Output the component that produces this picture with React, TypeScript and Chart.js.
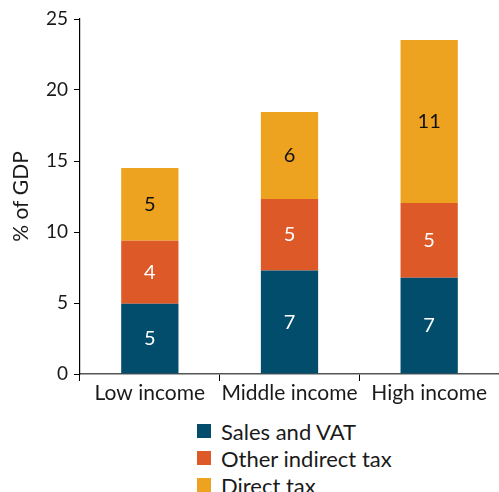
import React, { useEffect, useRef } from "react";
import { Chart, registerables } from "chart.js";

Chart.register(...registerables);

const categories = ["Low income", "Middle income", "High income"];
const salesVat = [4.95, 7.28, 6.78];
const otherIndirect = [4.44, 5.04, 5.26];
const directTax = [5.11, 6.13, 11.48];
const seriesNames = ["Sales and VAT", "Other indirect tax", "Direct tax"];
const seriesColors = ["#024c6c", "#dd5a28", "#eea320"];
const labelColors = ["#ffffff", "#ffffff", "#111111"];
const yMin = 0;
const yMax = 25;
const yStep = 5;

const FONT = "Lato, 'Noto Sans', sans-serif";
const CANVAS_W = 499;
const CANVAS_H = 410;

const valueLabels = {
  id: "valueLabels",
  afterDatasetsDraw(chart: any) {
    const ctx = chart.ctx;
    ctx.save();
    ctx.font = `20px ${FONT}`;
    ctx.textAlign = "center";
    ctx.textBaseline = "middle";
    chart.data.datasets.forEach((ds: any, i: number) => {
      const meta = chart.getDatasetMeta(i);
      meta.data.forEach((el: any, j: number) => {
        const v = ds.data[j];
        ctx.fillStyle = labelColors[i];
        ctx.fillText(String(Math.round(v)), el.x, (el.y + el.base) / 2);
      });
    });
    ctx.restore();
  },
};

export default function App() {
  const ref = useRef<HTMLCanvasElement | null>(null);

  useEffect(() => {
    document.body.style.margin = "0";
    if (!ref.current) return;
    const series = [salesVat, otherIndirect, directTax];
    const chart = new Chart(ref.current, {
      type: "bar",
      data: {
        labels: categories,
        datasets: series.map((d, i) => ({
          label: seriesNames[i],
          data: d,
          backgroundColor: seriesColors[i],
          borderWidth: 0,
          barPercentage: 0.41,
          categoryPercentage: 1,
        })),
      },
      options: {
        responsive: false,
        animation: false,
        layout: { padding: { top: 19, right: 0, left: 0, bottom: 0 } },
        plugins: {
          legend: { display: false },
          tooltip: { enabled: false },
        },
        scales: {
          x: {
            stacked: true,
            grid: {
              offset: true,
              drawOnChartArea: false,
              drawTicks: true,
              tickLength: 7,
              color: "#000",
            },
            border: { color: "#555", width: 1.5 },
            ticks: {
              font: { family: FONT, size: 21 },
              color: "#1a1a1a",
              padding: 0,
              maxRotation: 0,
              minRotation: 0,
              autoSkip: false,
            },
            afterFit: (s: any) => {
              s.height = CANVAS_H - 374;
            },
          },
          y: {
            stacked: true,
            min: yMin,
            max: yMax,
            ticks: {
              stepSize: yStep,
              font: { family: FONT, size: 19 },
              color: "#1a1a1a",
              padding: 6,
            },
            grid: {
              drawOnChartArea: false,
              drawTicks: true,
              tickLength: 6,
              color: "#000",
            },
            border: { color: "#000", width: 1.2 },
            title: {
              display: true,
              text: "% of GDP",
              font: { family: FONT, size: 21 },
              color: "#1a1a1a",
              padding: { top: 9, bottom: 0 },
            },
            afterFit: (s: any) => {
              s.width = 80;
            },
          },
        },
      },
      plugins: [valueLabels],
    });
    return () => chart.destroy();
  }, []);

  return (
    <div style={{ position: "relative", width: CANVAS_W, height: 492, overflow: "hidden", fontFamily: FONT }}>
      <canvas ref={ref} width={CANVAS_W} height={CANVAS_H} style={{ display: "block" }} />
      {seriesNames.map((name, i) => (
        <div
          key={name}
          style={{
            position: "absolute",
            left: 197,
            top: 431 + i * 27 - 14,
            height: 28,
            display: "flex",
            alignItems: "center",
            fontSize: 22,
            color: "#1a1a1a",
            whiteSpace: "nowrap",
          }}
        >
          <span
            style={{
              display: "inline-block",
              width: 14,
              height: 14,
              background: seriesColors[i],
              marginRight: 10,
              flexShrink: 0,
            }}
          />
          {name}
        </div>
      ))}
    </div>
  );
}
